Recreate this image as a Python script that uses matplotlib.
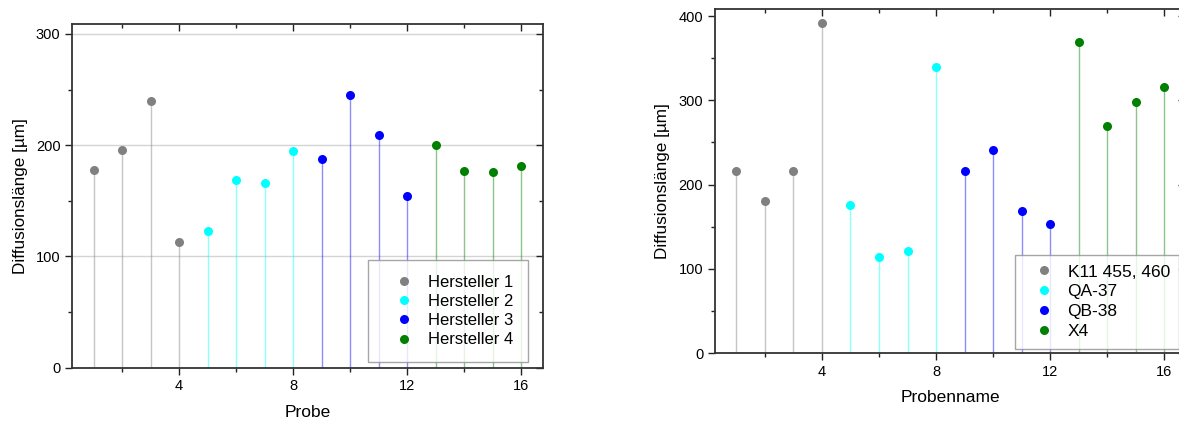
import numpy as np
import matplotlib.pyplot as plt
from matplotlib.ticker import MultipleLocator

plt.rcParams['font.family'] = ['Liberation Sans', 'DejaVu Sans']

# sample numbers 1..16, four samples per manufacturer
probe = np.arange(1, 17)
groups = [(0, 4), (4, 8), (8, 12), (12, 16)]

# diffusion length per sample [um]
diff_left = [178, 196, 240, 113, 123, 169, 166, 195,
             188, 245, 209, 154, 200, 177, 176, 181]
diff_right = [216, 180, 216, 392, 176, 114, 121, 340,
              216, 241, 168, 153, 369, 269, 298, 316]

labels_left = ["Hersteller 1", "Hersteller 2", "Hersteller 3", "Hersteller 4"]
labels_right = ["K11 455, 460", "QA-37", "QB-38", "X4"]
colors = ["#808080", "#00ffff", "#0000ff", "#008000"]


def drop_plot(ax, vals, labels, ymax, xlabel, grid, leg_anchor, leg_kw):
    vals = np.array(vals)
    if grid:
        for yv in (100, 200, 300):
            ax.axhline(yv, color="#d4d4d4", lw=1.0, zorder=0)
    for (a, b), c, lab in zip(groups, colors, labels):
        ax.vlines(probe[a:b], 0, vals[a:b], color=c, alpha=0.45, lw=1.0, zorder=1)
        ax.plot(probe[a:b], vals[a:b], "o", color=c, ms=6.5, label=lab,
                zorder=3, mec="none")
    ax.set_xlim(0.25, 16.75)
    ax.set_ylim(0, ymax)
    ax.xaxis.set_major_locator(MultipleLocator(4))
    ax.xaxis.set_minor_locator(MultipleLocator(2))
    ax.yaxis.set_major_locator(MultipleLocator(100))
    ax.yaxis.set_minor_locator(MultipleLocator(50))
    ax.tick_params(which="both", top=True, right=True, direction="out",
                   labelsize=10.5, width=1.0, color="#222222")
    ax.tick_params(which="major", length=5)
    ax.tick_params(which="minor", length=3)
    # ticks on the top and right spines point inward
    for t in ax.xaxis.get_major_ticks() + ax.xaxis.get_minor_ticks():
        t.tick2line.set_marker(3)
    for t in ax.yaxis.get_major_ticks() + ax.yaxis.get_minor_ticks():
        t.tick2line.set_marker(0)
    for s in ax.spines.values():
        s.set_linewidth(1.3)
        s.set_color("#333333")
    ax.set_xlabel(xlabel, fontsize=12.5, labelpad=8)
    ax.set_ylabel("Diffusionslänge [µm]", fontsize=12.3, labelpad=6)
    leg = ax.legend(loc="lower right", bbox_to_anchor=leg_anchor,
                    borderaxespad=0, frameon=True, fancybox=False, **leg_kw)
    leg.get_frame().set_edgecolor("#909090")
    leg.get_frame().set_linewidth(1.0)


fig = plt.figure(figsize=(11.79, 4.22), dpi=100)
ax1 = fig.add_axes([0.0613, 0.1287, 0.399, 0.8145])
ax2 = fig.add_axes([0.6065, 0.1635, 0.399, 0.8145])

drop_plot(ax1, diff_left, labels_left, 309, "Probe", True, (0.969, 0.0155),
          dict(fontsize=12, borderpad=0.9, handlelength=2.5,
               handletextpad=0.2, labelspacing=0.25))
drop_plot(ax2, diff_right, labels_right, 408, "Probenname", False, (0.987, 0.0127),
          dict(fontsize=12.5, borderpad=0.55, handlelength=2.2,
               handletextpad=0.25, labelspacing=0.27))

fig.savefig("out.png", dpi=100)
